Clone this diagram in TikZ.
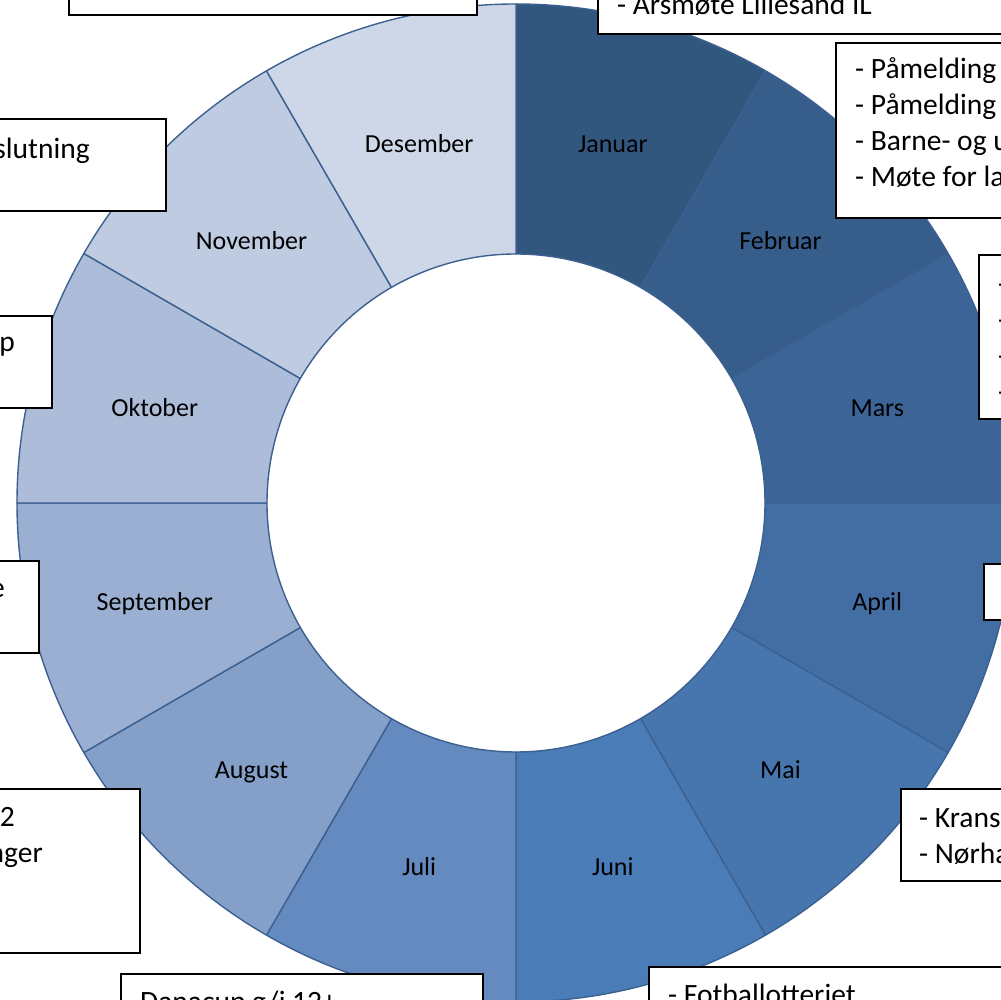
\documentclass[tikz,border=0pt]{standalone}
\usepackage{fontspec}
\setmainfont{Carlito}
\definecolor{ringline}{HTML}{3C6090}
\definecolor{jancol}{HTML}{32577F}
\definecolor{febcol}{HTML}{375D8A}
\definecolor{marcol}{HTML}{3C6496}
\definecolor{aprcol}{HTML}{426EA3}
\definecolor{maicol}{HTML}{4775AD}
\definecolor{juncol}{HTML}{4A7CB8}
\definecolor{julcol}{HTML}{648ABF}
\definecolor{augcol}{HTML}{84A0C9}
\definecolor{sepcol}{HTML}{9AAFD1}
\definecolor{oktcol}{HTML}{ADBDD9}
\definecolor{novcol}{HTML}{BECBE1}
\definecolor{descol}{HTML}{CED7E7}
\tikzset{
  segment/.style={draw=ringline, line width=1.4pt, line join=round},
  monthlabel/.style={anchor=base, yshift=-10.8pt, inner sep=0pt, font=\fontsize{26}{31}\selectfont},
  notebox/.style={draw=black, fill=white, line width=2pt, inner sep=0pt, anchor=north west},
  notetext/.style={anchor=base west, inner sep=0pt, align=flush left, text width=420pt, font=\fontsize{29.5}{36}\selectfont},
  cuttext/.style={anchor=base east, inner sep=0pt, font=\fontsize{29.5}{36}\selectfont},
}
\begin{document}
\begin{tikzpicture}[x=1pt,y=1pt]
      \useasboundingbox (-516,-497) rectangle (485,503);
      \clip (-516,-497) rectangle (485,503);
      % ring
      \begin{scope}
        \filldraw[segment, fill=jancol] (90:499pt) arc[start angle=90, end angle=60, radius=499pt] -- (60:249pt) arc[start angle=60, end angle=90, radius=249pt] -- cycle;
        \filldraw[segment, fill=febcol] (60:499pt) arc[start angle=60, end angle=30, radius=499pt] -- (30:249pt) arc[start angle=30, end angle=60, radius=249pt] -- cycle;
        \filldraw[segment, fill=marcol] (30:499pt) arc[start angle=30, end angle=0, radius=499pt] -- (0:249pt) arc[start angle=0, end angle=30, radius=249pt] -- cycle;
        \filldraw[segment, fill=aprcol] (0:499pt) arc[start angle=0, end angle=-30, radius=499pt] -- (-30:249pt) arc[start angle=-30, end angle=0, radius=249pt] -- cycle;
        \filldraw[segment, fill=maicol] (-30:499pt) arc[start angle=-30, end angle=-60, radius=499pt] -- (-60:249pt) arc[start angle=-60, end angle=-30, radius=249pt] -- cycle;
        \filldraw[segment, fill=juncol] (-60:499pt) arc[start angle=-60, end angle=-90, radius=499pt] -- (-90:249pt) arc[start angle=-90, end angle=-60, radius=249pt] -- cycle;
        \filldraw[segment, fill=julcol] (-90:499pt) arc[start angle=-90, end angle=-120, radius=499pt] -- (-120:249pt) arc[start angle=-120, end angle=-90, radius=249pt] -- cycle;
        \filldraw[segment, fill=augcol] (-120:499pt) arc[start angle=-120, end angle=-150, radius=499pt] -- (-150:249pt) arc[start angle=-150, end angle=-120, radius=249pt] -- cycle;
        \filldraw[segment, fill=sepcol] (-150:499pt) arc[start angle=-150, end angle=-180, radius=499pt] -- (-180:249pt) arc[start angle=-180, end angle=-150, radius=249pt] -- cycle;
        \filldraw[segment, fill=oktcol] (180:499pt) arc[start angle=180, end angle=150, radius=499pt] -- (150:249pt) arc[start angle=150, end angle=180, radius=249pt] -- cycle;
        \filldraw[segment, fill=novcol] (150:499pt) arc[start angle=150, end angle=120, radius=499pt] -- (120:249pt) arc[start angle=120, end angle=150, radius=249pt] -- cycle;
        \filldraw[segment, fill=descol] (120:499pt) arc[start angle=120, end angle=90, radius=499pt] -- (90:249pt) arc[start angle=90, end angle=120, radius=249pt] -- cycle;
      \end{scope}
      % month names
      \path
        (75:374pt) node[monthlabel] (jan) {Januar}
        (45:374pt) node[monthlabel] (feb) {Februar}
        (15:374pt) node[monthlabel] (mar) {Mars}
        (-15:374pt) node[monthlabel] (apr) {April}
        (-45:374pt) node[monthlabel] (mai) {Mai}
        (-75:374pt) node[monthlabel] (jun) {Juni}
        (-105:374pt) node[monthlabel] (jul) {Juli}
        (-135:374pt) node[monthlabel] (aug) {August}
        (-165:374pt) node[monthlabel] (sep) {September}
        (165:374pt) node[monthlabel] (okt) {Oktober}
        (135:374pt) node[monthlabel] (nov) {November}
        (105:374pt) node[monthlabel] (des) {Desember};
      % note boxes
      \node[notebox, minimum width=408pt, minimum height=131pt] (boxDes) at (-448,620) {};
      \node[notebox, minimum width=600pt, minimum height=150pt] (boxJan) at (81,620) {};
      \node[notebox, minimum width=400pt, minimum height=175pt] (boxFeb) at (319,461) {};
      \node[notebox, minimum width=300pt, minimum height=164pt] (boxMar) at (462,249) {};
      \node[notebox, minimum width=300pt, minimum height=56pt] (boxApr) at (467,-60) {};
      \node[notebox, minimum width=300pt, minimum height=92pt] (boxMai) at (384,-285) {};
      \node[notebox, minimum width=500pt, minimum height=200pt] (boxJun) at (132,-463) {};
      \node[notebox, minimum width=362pt, minimum height=200pt] (boxJul) at (-396,-470) {};
      \node[notebox, minimum width=339pt, minimum height=164pt] (boxAug) at (-716,-285) {};
      \node[notebox, minimum width=238pt, minimum height=92pt] (boxSep) at (-716,-57) {};
      \node[notebox, minimum width=251pt, minimum height=92pt] (boxOkt) at (-716,188) {};
      \node[notebox, minimum width=365pt, minimum height=92pt] (boxNov) at (-716,385) {};
      % note texts
      \node[notetext] (tJan) at (101,488) {- Årsmøte Lillesand IL};
      \node[notetext] (tFeb) at (339,424) {- Påmelding\\- Påmelding\\- Barne- og u\\- Møte for la};
      \node[notetext] (tMar) at (482,209) {-\\-\\-\\-};
      \node[notetext] (tMai) at (403,-324) {- Krans\\- Nørha};
      \node[notetext] (tJun) at (152,-501) {- Fotballotteriet};
      \node[notetext] (tJul) at (-376,-508) {Danacup g/j 12+};
      \node[cuttext] (tAugA) at (-501,-323) {2};
      \node[cuttext] (tAugB) at (-473,-359) {nger};
      \node[cuttext] (tSep) at (-511,-95) {e};
      \node[cuttext] (tOkt) at (-501,151) {p};
      \node[cuttext] (tNov) at (-426,344) {slutning};
    \end{tikzpicture}
\end{document}
